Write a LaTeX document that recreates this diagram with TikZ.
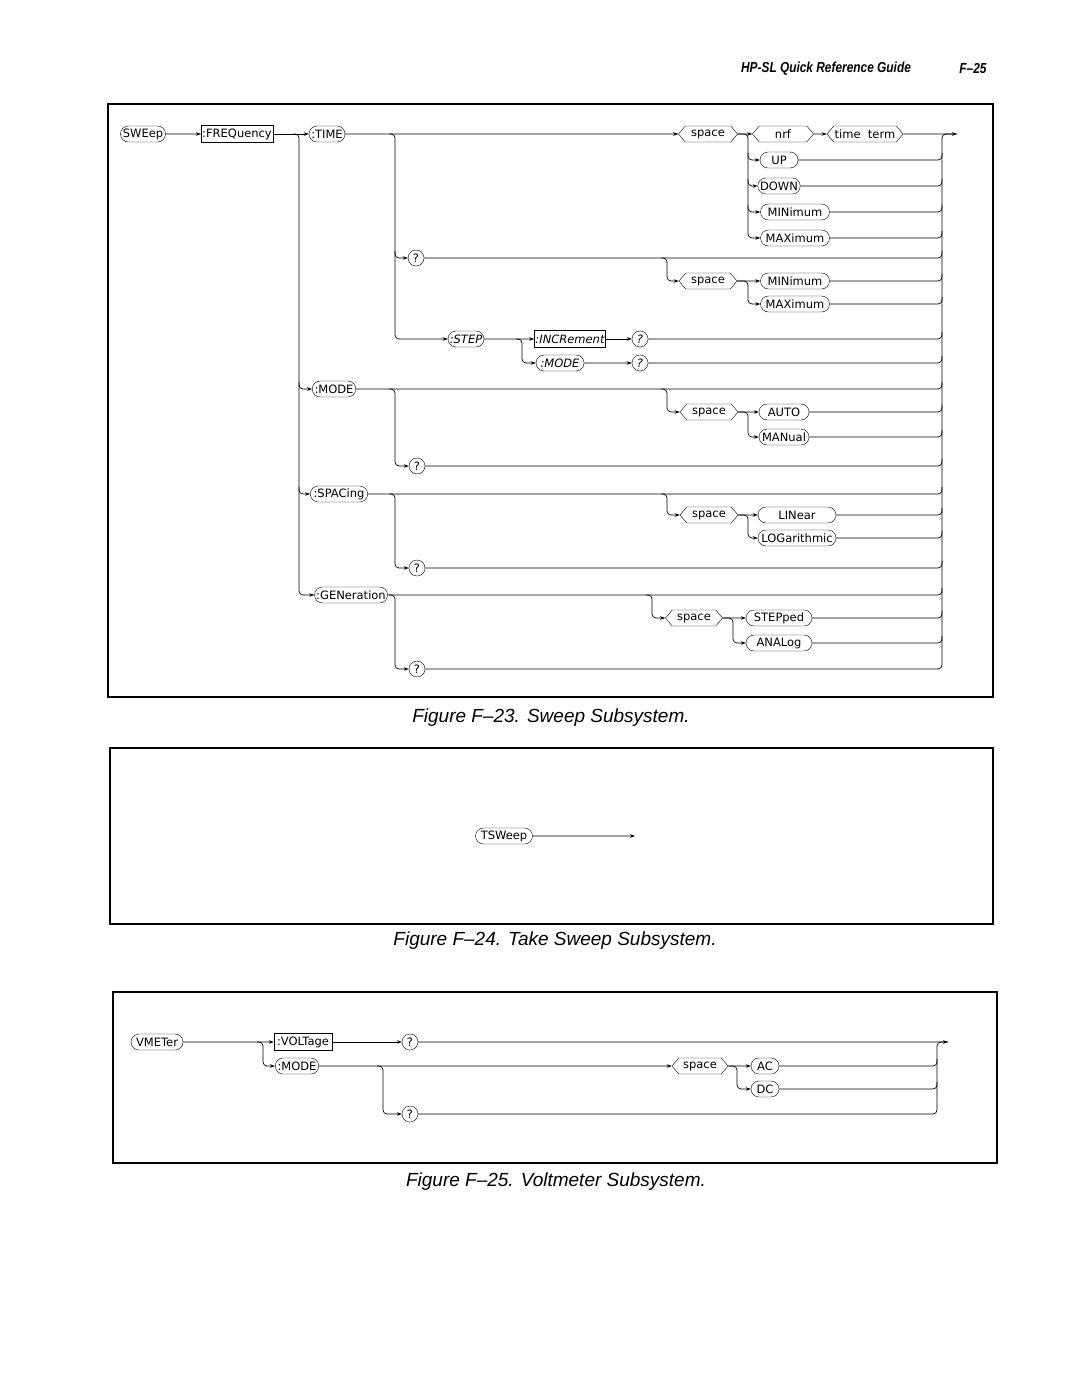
\documentclass[tikz,border=0pt]{standalone}
\usepackage{fontspec}
\setmainfont{Liberation Sans}
\newfontfamily\kwfont{DejaVu Sans}
\newcommand{\kwsize}{\fontsize{11.5pt}{13pt}\selectfont}
\usetikzlibrary{arrows, arrows.meta, calc, shapes.misc, shapes.symbols}
\tikzset{
  kw/.style={draw, rounded rectangle, minimum height=16pt, inner xsep=1pt, inner ysep=0pt, font=\kwfont\kwsize},
  slant/.style={font=\kwfont\itshape\kwsize},
  cmdbox/.style={kw, rectangle, minimum height=17pt},
  parm/.style={kw, signal, signal to=east and west, signal pointer angle=100},
  qm/.style={kw, minimum width=18pt},
  wire/.style={line width=0.7pt, rounded corners=4pt},
  arr/.style={wire, -{Stealth[length=5pt, width=3.5pt]}},
  figframe/.style={line width=1.6pt},
  caption/.style={font=\itshape\fontsize{19pt}{22pt}\selectfont},
  header/.style={font=\bfseries\itshape\fontsize{14.5pt}{16pt}\selectfont, xscale=0.82, transform shape}
}

\begin{document}
\begin{tikzpicture}[x=1pt, y=-1pt]
\useasboundingbox (0,0) rectangle (1080,1397);

\node[header] (head) at (826,69) {HP-SL Quick Reference Guide};
\node[header] (page) at (973,69) {F--25};

% Figure F-23
\draw[figframe] (108,104) rectangle (993,697);
\node[kw, minimum width=47pt] (sweep) at (143,134) {SWEep};
\node[cmdbox, minimum width=69pt] (freq) at (237,134) {:FREQuency};
\node[kw, minimum width=38pt] (time) at (327,134) {:TIME};
\node[parm, minimum width=59pt] (sp1) at (708,134) {space};
\node[parm, minimum width=61pt] (nrf) at (783,134) {nrf};
\node[parm, minimum width=70pt] (tterm) at (865,134) {time\ \ term};
\node[kw, minimum width=40pt] (up) at (779,160) {UP};
\node[kw, minimum width=40pt] (down) at (779,186) {DOWN};
\node[kw, minimum width=71pt] (tmin) at (795,212) {MINimum};
\node[kw, minimum width=71pt] (tmax) at (795,238) {MAXimum};
\node[qm] (tq) at (416,258) {?};
\node[parm, minimum width=58pt] (sp2) at (708,281) {space};
\node[kw, minimum width=71pt] (qmin) at (795,281) {MINimum};
\node[kw, minimum width=71pt] (qmax) at (795,304) {MAXimum};
\node[kw, slant, minimum width=38pt] (step) at (466,339) {:STEP};
\node[cmdbox, slant, minimum width=70pt] (incr) at (570,339) {:INCRement};
\node[qm, slant] (iq) at (640,339) {?};
\node[kw, slant, minimum width=50pt] (smode) at (560,363) {:MODE};
\node[qm, slant] (sq) at (640,363) {?};
\node[kw, minimum width=43pt] (mode) at (334,389) {:MODE};
\node[parm, minimum width=58pt] (sp3) at (709,412) {space};
\node[kw, minimum width=52pt] (auto) at (784,412) {AUTO};
\node[kw, minimum width=52pt] (manual) at (784,437) {MANual};
\node[qm] (mq) at (417,466) {?};
\node[kw, minimum width=54pt] (spac) at (339,494) {:SPACing};
\node[parm, minimum width=58pt] (sp4) at (709,515) {space};
\node[kw, minimum width=80pt] (lin) at (797,515) {LINear};
\node[kw, minimum width=80pt] (log) at (797,538) {LOGarithmic};
\node[qm] (spq) at (417,568) {?};
\node[kw, minimum width=75pt] (gen) at (351,595) {:GENeration};
\node[parm, minimum width=57pt] (sp5) at (694,618) {space};
\node[kw, minimum width=68pt] (stepped) at (779,618) {STEPped};
\node[kw, minimum width=68pt] (analog) at (779,643) {ANALog};
\node[qm] (gq) at (417,669) {?};

\coordinate (b1) at (299,0);
\coordinate (b2) at (395,0);
\coordinate (b4) at (667,0);
\coordinate (b5) at (748,0);
\coordinate (b6) at (522,0);
\coordinate (b8) at (652,0);
\coordinate (b9) at (733,0);
\coordinate (rail1) at (942,134);
\coordinate (out1) at (957,134);

% main line
\draw[arr] (sweep) -- (freq);
\draw[arr] (freq) -- (time);
\draw[arr] (time) -- (sp1);
\draw[arr] (sp1) -- (nrf);
\draw[arr] (nrf) -- (tterm);
\draw[wire] (tterm) -- (out1);
\draw[arr] ($(b1 |- freq)+(-6,0)$) -| (b1 |- gen) -- (gen);
\draw[arr] ($(b1 |- mode)+(0,-7)$) |- (mode);
\draw[arr] ($(b1 |- spac)+(0,-7)$) |- (spac);

% :TIME
\draw[arr] ($(b2 |- time)+(-6,0)$) -| (b2 |- step) -- (step);
\draw[arr] ($(b2 |- tq)+(0,-7)$) |- (tq);
\draw[arr] (sp1.east) -| (b5 |- tmax) -- (tmax);
\draw[arr] ($(b5 |- up)+(0,-7)$) |- (up);
\draw[arr] ($(b5 |- down)+(0,-7)$) |- (down);
\draw[arr] ($(b5 |- tmin)+(0,-7)$) |- (tmin);
\draw[arr] ($(b4 |- tq)+(-6,0)$) -| (b4 |- sp2) -- (sp2);
\draw[arr] (sp2) -- (qmin);
\draw[arr] (sp2.east) -| (b5 |- qmax) -- (qmax);
\draw[arr] (step) -- (incr);
\draw[arr] ($(b6 |- step)+(-6,0)$) -| (b6 |- smode) -- (smode);
\draw[arr] (incr) -- (iq);
\draw[arr] (smode) -- (sq);

% :MODE
\draw[arr] ($(b2 |- mode)+(-6,0)$) -| (b2 |- mq) -- (mq);
\draw[arr] ($(b4 |- mode)+(-6,0)$) -| (b4 |- sp3) -- (sp3);
\draw[arr] (sp3) -- (auto);
\draw[arr] (sp3.east) -| (b5 |- manual) -- (manual);

% :SPACing
\draw[arr] ($(b2 |- spac)+(-6,0)$) -| (b2 |- spq) -- (spq);
\draw[arr] ($(b4 |- spac)+(-6,0)$) -| (b4 |- sp4) -- (sp4);
\draw[arr] (sp4) -- (lin);
\draw[arr] (sp4.east) -| (b5 |- log) -- (log);

% :GENeration
\draw[arr] ($(b2 |- gen)+(-6,0)$) -| (b2 |- gq) -- (gq);
\draw[arr] ($(b8 |- gen)+(-6,0)$) -| (b8 |- sp5) -- (sp5);
\draw[arr] (sp5) -- (stepped);
\draw[arr] (sp5.east) -| (b9 |- analog) -- (analog);

% into the rail (only the bend, the rail itself is drawn once)
\draw[wire] (up.east) -| ($(rail1 |- up)+(0,-7)$);
\draw[wire] (down.east) -| ($(rail1 |- down)+(0,-7)$);
\draw[wire] (tmin.east) -| ($(rail1 |- tmin)+(0,-7)$);
\draw[wire] (tmax.east) -| ($(rail1 |- tmax)+(0,-7)$);
\draw[wire] (tq.east) -| ($(rail1 |- tq)+(0,-7)$);
\draw[wire] (qmin.east) -| ($(rail1 |- qmin)+(0,-7)$);
\draw[wire] (qmax.east) -| ($(rail1 |- qmax)+(0,-7)$);
\draw[wire] (iq.east) -| ($(rail1 |- iq)+(0,-7)$);
\draw[wire] (sq.east) -| ($(rail1 |- sq)+(0,-7)$);
\draw[wire] (mode.east) -| ($(rail1 |- mode)+(0,-7)$);
\draw[wire] (auto.east) -| ($(rail1 |- auto)+(0,-7)$);
\draw[wire] (manual.east) -| ($(rail1 |- manual)+(0,-7)$);
\draw[wire] (mq.east) -| ($(rail1 |- mq)+(0,-7)$);
\draw[wire] (spac.east) -| ($(rail1 |- spac)+(0,-7)$);
\draw[wire] (lin.east) -| ($(rail1 |- lin)+(0,-7)$);
\draw[wire] (log.east) -| ($(rail1 |- log)+(0,-7)$);
\draw[wire] (spq.east) -| ($(rail1 |- spq)+(0,-7)$);
\draw[wire] (gen.east) -| ($(rail1 |- gen)+(0,-7)$);
\draw[wire] (stepped.east) -| ($(rail1 |- stepped)+(0,-7)$);
\draw[wire] (analog.east) -| ($(rail1 |- analog)+(0,-7)$);
\draw[arr] (gq.east) -| (rail1) -- (out1);

\node[caption] (cap1) at (551,718) {Figure F--23. Sweep Subsystem.};

% Figure F-24
\draw[figframe] (110,748) rectangle (993,924);
\node[kw, minimum width=59pt] (tsweep) at (504,836) {TSWeep};
\coordinate (out2) at (635,836);
\draw[arr] (tsweep) -- (out2);

\node[caption] (cap2) at (555,941) {Figure F--24. Take Sweep Subsystem.};

% Figure F-25
\draw[figframe] (113,992) rectangle (997,1163);
\node[kw, minimum width=54pt] (vmeter) at (157,1042) {VMETer};
\node[cmdbox, minimum width=58pt] (volt) at (303,1042) {:VOLTage};
\node[qm] (vq) at (410,1042) {?};
\node[kw, minimum width=43pt] (vmode) at (297,1066) {:MODE};
\node[parm, minimum width=56pt] (vsp) at (700,1066) {space};
\node[kw, minimum width=30pt] (ac) at (765,1066) {AC};
\node[kw, minimum width=30pt] (dc) at (765,1089) {DC};
\node[qm] (vq2) at (410,1114) {?};

\coordinate (b10) at (263,0);
\coordinate (b11) at (383,0);
\coordinate (b12) at (737,0);
\coordinate (rail3) at (937,1042);
\coordinate (out3) at (948,1042);

\draw[arr] (vmeter) -- (volt);
\draw[arr] ($(b10 |- vmeter)+(-6,0)$) -| (b10 |- vmode) -- (vmode);
\draw[arr] (volt) -- (vq);
\draw[wire] (vq) -- (out3);
\draw[arr] (vmode) -- (vsp);
\draw[arr] ($(b11 |- vmode)+(-6,0)$) -| (b11 |- vq2) -- (vq2);
\draw[arr] (vsp) -- (ac);
\draw[arr] (vsp.east) -| (b12 |- dc) -- (dc);
\draw[wire] (ac.east) -| ($(rail3 |- ac)+(0,-7)$);
\draw[wire] (dc.east) -| ($(rail3 |- dc)+(0,-7)$);
\draw[arr] (vq2.east) -| (rail3) -- (out3);

\node[caption] (cap3) at (556,1182) {Figure F--25. Voltmeter Subsystem.};

\end{tikzpicture}
\end{document}
